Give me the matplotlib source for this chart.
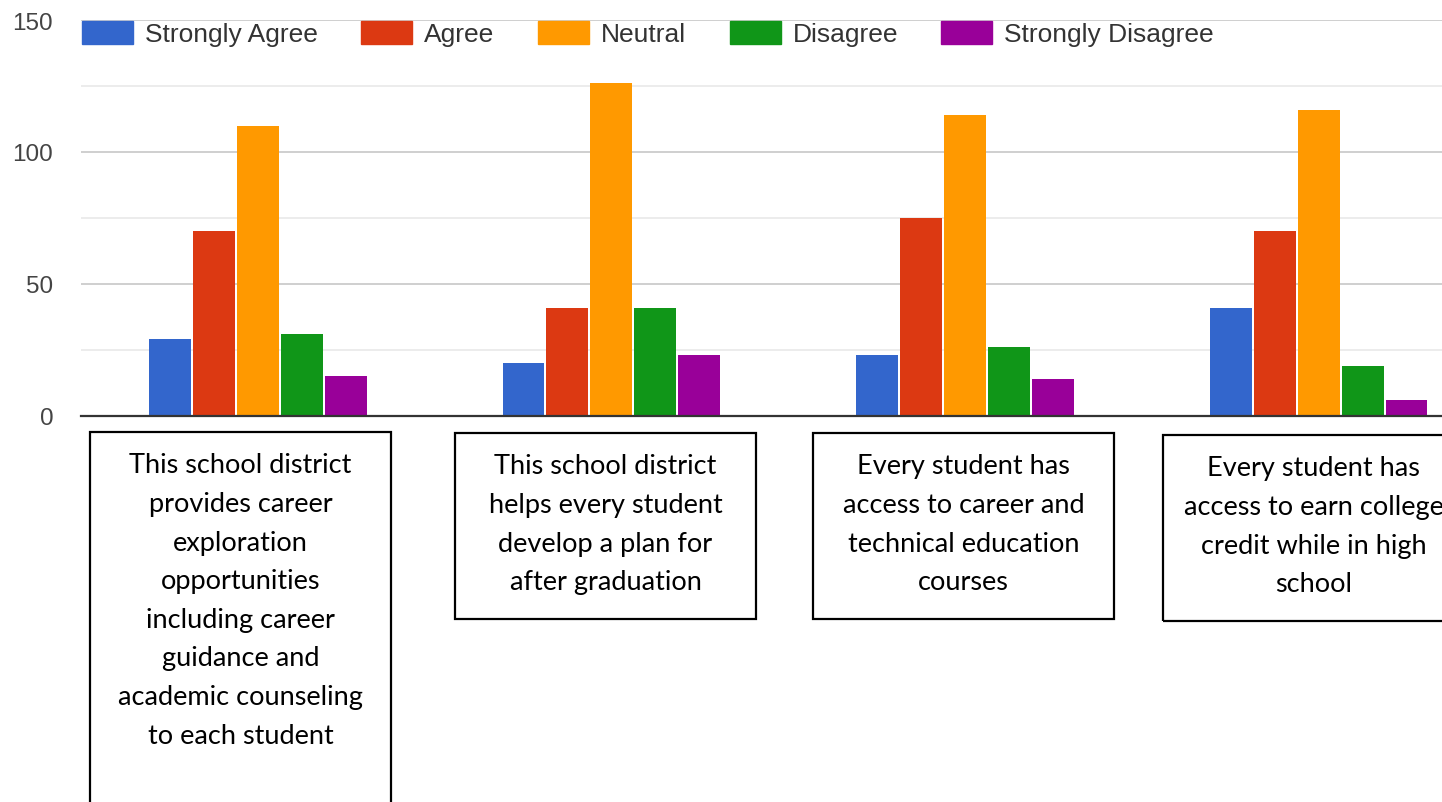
import numpy as np
import matplotlib
matplotlib.use("Agg")
import matplotlib.pyplot as plt
from matplotlib.patches import Rectangle


# survey responses per statement
series = ['Strongly Agree', 'Agree', 'Neutral', 'Disagree', 'Strongly Disagree']
colors = ['#3366CC', '#DC3912', '#FF9900', '#109618', '#990099']

strongly_agree = [29, 20, 23, 41]
agree = [70, 41, 75, 70]
neutral = [110, 126, 114, 116]
disagree = [31, 41, 26, 19]
strongly_disagree = [15, 23, 14, 6]
values = [strongly_agree, agree, neutral, disagree, strongly_disagree]

statements = [
    "This school district\nprovides career\nexploration\nopportunities\nincluding career\nguidance and\nacademic counseling\nto each student",
    "This school district\nhelps every student\ndevelop a plan for\nafter graduation",
    "Every student has\naccess to career and\ntechnical education\ncourses",
    "Every student has\naccess to earn college\ncredit while in high\nschool",
]

W, H = 1442, 803
fig = plt.figure(figsize=(W / 100, H / 100), dpi=100)
fig.patch.set_facecolor('white')

def fx(px):
    return px / W

def fy(py):
    return 1 - py / H

ax = fig.add_axes([fx(81), fy(417), 1 - fx(81), fy(21) - fy(417)])

x = np.arange(len(statements))
pitch = 0.1243
bw = 0.1186
for i, (name, vals) in enumerate(zip(series, values)):
    ax.bar(x + (i - 2) * pitch, vals, width=bw, color=colors[i], label=name, zorder=3)

ax.set_xlim(-0.5, 3.349)
ax.set_ylim(0, 150)
ax.set_yticks([0, 50, 100, 150])
ax.set_yticks([25, 75, 125], minor=True)
ax.grid(axis='y', which='major', color='#CCCCCC', lw=1.3, zorder=0)
ax.grid(axis='y', which='minor', color='#EBEBEB', lw=1.3, zorder=0)
ax.tick_params(axis='y', which='both', length=0, pad=20, labelsize=17.5, labelcolor='#444444')
ax.tick_params(axis='x', length=0, labelbottom=False)
for s in ['top', 'right', 'left']:
    ax.spines[s].set_visible(False)
ax.spines['bottom'].set_color('#333333')
ax.spines['bottom'].set_linewidth(1.6)
ax.spines['bottom'].set_zorder(4)
for lab in ax.get_yticklabels():
    lab.set_fontfamily('Liberation Sans')

# legend drawn across the top
sw_left = [82, 361, 538, 730, 941]
for i, name in enumerate(series):
    fig.patches.append(Rectangle((fx(sw_left[i]), fy(45)), fx(51), fy(22) - fy(45),
                                 transform=fig.transFigure, color=colors[i], zorder=5))
    fig.text(fx(sw_left[i] + 63), fy(35), name, fontsize=19, family='Liberation Sans',
             color='#333333', va='center', ha='left', zorder=6)

# statement boxes under the groups
box_left = [90, 455, 813, 1163]
box_top = [433, 434, 434, 436]
box_bottom = [820, 620, 620, 622]
box_w = 301
for j, txt in enumerate(statements):
    fig.patches.append(Rectangle((fx(box_left[j]), fy(box_bottom[j])), fx(box_w),
                                 fy(box_top[j]) - fy(box_bottom[j]),
                                 transform=fig.transFigure, fill=False,
                                 edgecolor='black', lw=1.6, zorder=5))
    cx = box_left[j] + box_w / 2
    for k, line in enumerate(txt.split('\n')):
        fig.text(fx(cx), fy(box_top[j] + 33 + k * 38.6), line, fontsize=19.5,
                 family='Lato', color='black', ha='center', va='center')

fig.savefig('out.png', dpi=100, facecolor='white')
